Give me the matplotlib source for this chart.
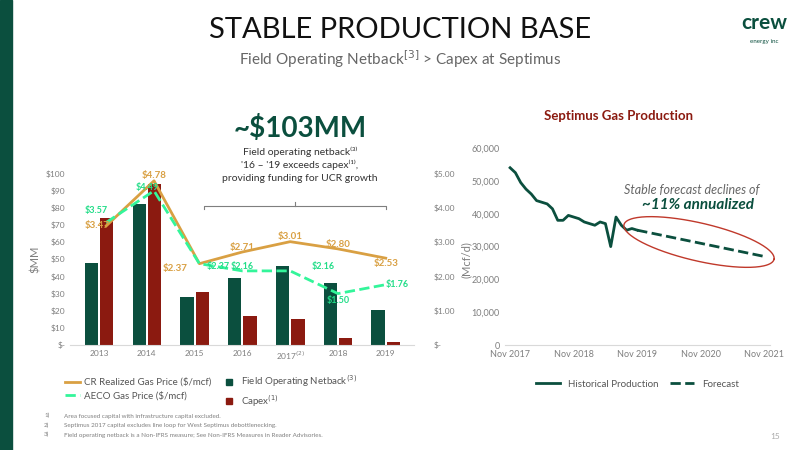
import numpy as np
import matplotlib.pyplot as plt
from matplotlib.patches import Rectangle
from matplotlib.lines import Line2D

plt.rcParams['font.family'] = ['Lato', 'DejaVu Sans']

# données
years = ['2013', '2014', '2015', '2016', '2017', '2018', '2019']
netback = [48, 82, 28, 39, 46, 36, 20.5]
capex = [74, 94, 31, 17, 15, 4, 2]
cr_price = [3.47, 4.78, 2.37, 2.71, 3.01, 2.80, 2.53]
aeco_price = [3.57, 4.49, 2.37, 2.16, 2.16, 1.50, 1.76]

hist_prod = [54000, 52500, 49500, 47500, 46000, 44000, 43500, 43000, 41500, 38000,
             38000, 39500, 39000, 38500, 37500, 37000, 36500, 37500, 37000, 30000,
             39000, 36500, 35000, 35500, 35000]
forecast_months = [24, 30, 36, 42, 48]
forecast_prod = [35000, 33000, 31000, 29000, 27000]
prod_ticks = ['Nov 2017', 'Nov 2018', 'Nov 2019', 'Nov 2020', 'Nov 2021']

GREEN = '#0b4f3e'
RED = '#8b1a10'
ORANGE = '#d9a043'
LIME = '#33f59a'
GREY = '#7f7f7f'

fig = plt.figure(figsize=(8, 4.5), dpi=100)
fig.patches.append(Rectangle((0, 0), 12 / 800, 1, transform=fig.transFigure, color=GREEN))

fig.text(0.5, 0.915, 'STABLE PRODUCTION BASE', ha='center', fontsize=21, color='#111111')
fig.text(0.5, 0.855, 'Field Operating Netback$^{[3]}$ > Capex at Septimus', ha='center',
         fontsize=11, color='#666666')
fig.text(0.955, 0.935, 'crew', ha='center', fontsize=15, fontweight='bold', color=GREEN)
fig.text(0.955, 0.905, 'energy inc', ha='center', fontsize=4.5, color=GREEN)

# left chart
ax = fig.add_axes([0.088, 0.233, 0.43, 0.382])
x = np.arange(len(years))
w = 0.28
ax.bar(x - w / 2 - 0.02, netback, w, color=GREEN)
ax.bar(x + w / 2 + 0.02, capex, w, color=RED)
ax.set_ylim(0, 100)
ax.set_xlim(-0.6, 6.6)
ax.set_yticks(range(0, 101, 10))
ax.set_yticklabels(['$-'] + ['$%d' % v for v in range(10, 101, 10)])
ax.set_xticks(x)
ax.set_xticklabels(['2013', '2014', '2015', '2016', '2017$^{(2)}$', '2018', '2019'])
ax.set_ylabel('$MM', color=GREY, fontsize=8)
for s in ['top', 'right', 'left']:
    ax.spines[s].set_visible(False)
ax.spines['bottom'].set_color('#d9d9d9')
ax.tick_params(length=0, labelsize=6, colors=GREY)

ax2 = ax.twinx()
xl = x + np.array([0.15, 0.15, 0.1, 0, 0, 0, 0])
ax2.plot(xl, cr_price, color=ORANGE, lw=2)
ax2.plot(xl, aeco_price, color=LIME, lw=2, ls='--')
ax2.set_ylim(0, 5)
ax2.set_yticks(range(6))
ax2.set_yticklabels(['$-'] + ['$%d.00' % v for v in range(1, 6)])
ax2.set_ylabel('(Mcf/d)', color=GREY, fontsize=8)
for s in ax2.spines.values():
    s.set_visible(False)
ax2.tick_params(length=0, labelsize=6, colors=GREY, pad=14)
cr_off = [(-0.2, 0.0), (0, 0.15), (-0.5, -0.13), (0, 0.13), (0, 0.14), (0, 0.13), (0, -0.15)]
ae_off = [(-0.2, 0.35), (-0.15, 0.1), (0.4, -0.08), (0, 0.12), (0.7, 0.12), (0, -0.2), (0.25, 0)]
for i in range(len(years)):
    ax2.text(xl[i] + cr_off[i][0], cr_price[i] + cr_off[i][1], '$%.2f' % cr_price[i],
             color=ORANGE, fontsize=7, fontweight='bold', ha='center', va='center')
    ax2.text(xl[i] + ae_off[i][0], aeco_price[i] + ae_off[i][1], '$%.2f' % aeco_price[i],
             color='#22dd88', fontsize=6.5, fontweight='bold', ha='center', va='center')

# bracket
ax2.plot([2.2, 2.2, 6.0, 6.0], [3.95, 4.05, 4.05, 3.95], color=GREY, lw=0.8, clip_on=False)
ax2.plot([4.1, 4.1], [4.05, 4.15], color=GREY, lw=0.8, clip_on=False)
fig.text(0.375, 0.695, '~$103MM', ha='center', fontsize=20, fontweight='bold', color=GREEN)
fig.text(0.375, 0.655, "Field operating netback⁽³⁾", ha='center', fontsize=7.5, color='#333333')
fig.text(0.375, 0.626, "'16 – '19 exceeds capex⁽¹⁾,", ha='center', fontsize=7.5, color='#333333')
fig.text(0.375, 0.597, "providing funding for UCR growth", ha='center', fontsize=7.5, color='#333333')

handles = [Line2D([], [], color=ORANGE, lw=2), Line2D([], [], color=LIME, lw=2, ls='--'),
           Line2D([], [], color=GREEN, marker='s', ls='', ms=5),
           Line2D([], [], color=RED, marker='s', ls='', ms=5)]
labels = ['CR Realized Gas Price ($/mcf)', 'AECO Gas Price ($/mcf)',
          'Field Operating Netback$^{(3)}$', 'Capex$^{(1)}$']
fig.legend(handles, labels, ncol=2, loc='upper left', bbox_to_anchor=(0.07, 0.19),
           frameon=False, fontsize=7, labelcolor='#555555', handlelength=1.6,
           columnspacing=1.0, handletextpad=0.4, labelspacing=0.4)

# right chart
ax3 = fig.add_axes([0.631, 0.233, 0.331, 0.438])
months = np.arange(len(hist_prod))
ax3.plot(months, hist_prod, color=GREEN, lw=2, label='Historical Production')
ax3.plot(forecast_months, forecast_prod, color=GREEN, lw=2, ls='--', label='Forecast')
ax3.set_ylim(0, 60000)
ax3.set_xlim(-1, 49)
ax3.set_yticks(range(0, 60001, 10000))
ax3.set_yticklabels(['0'] + ['{:,}'.format(v) for v in range(10000, 60001, 10000)])
ax3.set_xticks([0, 12, 24, 36, 48])
ax3.set_xticklabels(prod_ticks)
for s in ['top', 'right', 'left']:
    ax3.spines[s].set_visible(False)
ax3.spines['bottom'].set_color('#d9d9d9')
ax3.tick_params(length=0, labelsize=6.5, colors=GREY)
ax3.text(47, 46000, 'Stable forecast declines of', ha='right', fontsize=9, style='italic',
         color='#666666')
ax3.text(46, 41500, '~11% annualized', ha='right', fontsize=11, style='italic',
         fontweight='bold', color=GREEN)
ax3.legend(loc='upper center', bbox_to_anchor=(0.5, -0.13), ncol=2, frameon=False,
           fontsize=7, labelcolor='#555555', handlelength=2.5, columnspacing=1.2)
fig.text(0.773, 0.733, 'Septimus Gas Production', ha='center', fontsize=9.5,
         fontweight='bold', color=RED)

# red ellipse around the forecast, drawn in pixel space so it keeps its shape
t = np.linspace(0, 2 * np.pi, 200)
a, b, ang = 77, 19, np.deg2rad(-13)
ex = 699 + a * np.cos(t) * np.cos(ang) - b * np.sin(t) * np.sin(ang)
ey = 242 - (a * np.cos(t) * np.sin(ang) + b * np.sin(t) * np.cos(ang))
fig.lines.append(Line2D(ex / 800, 1 - ey / 450, transform=fig.transFigure,
                        color='#c0392b', lw=1))

notes = ['Area focused capital with infrastructure capital excluded.',
         'Septimus 2017 capital excludes line loop for West Septimus debottlenecking.',
         'Field operating netback is a Non-IFRS measure; See Non-IFRS Measures in Reader Advisories.']
for i, n in enumerate(notes):
    fig.text(0.055, 0.072 - i * 0.021, '%d)' % (i + 1), fontsize=4.5, color=GREY)
    fig.text(0.08, 0.072 - i * 0.021, n, fontsize=4.5, color=GREY)
fig.text(0.975, 0.025, '15', fontsize=6, color='#aaaaaa', ha='right')

fig.savefig('out.png', dpi=100)
